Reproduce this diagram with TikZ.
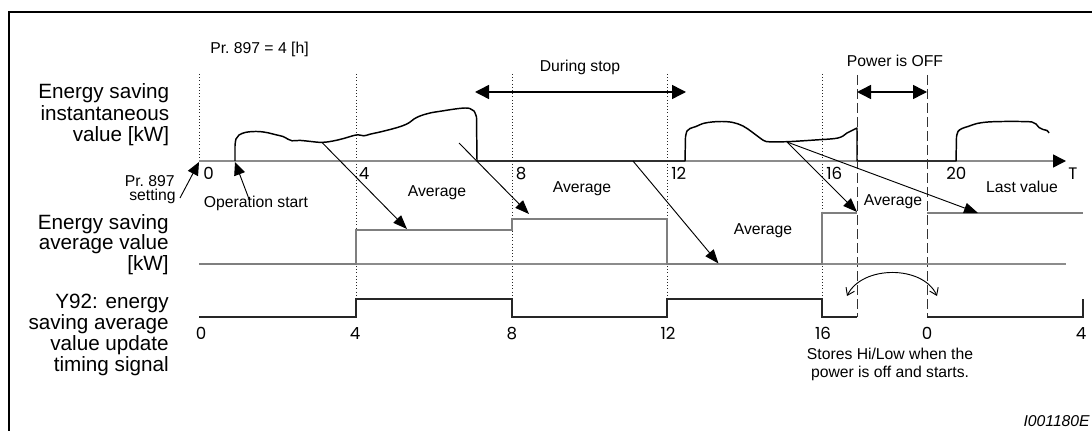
\documentclass[tikz,border=0pt]{standalone}
\usepackage{graphicx}
\usepackage{fontspec}
\setmainfont{Liberation Sans}
\newfontfamily\numfont{Poppins}
\newfontfamily\lblfont{Liberation Sans}
\usetikzlibrary{arrows.meta}
\definecolor{avggray}{HTML}{7F7F7F}
\definecolor{axisgray}{HTML}{8C8C8C}
\newcommand{\smalllbl}{\lblfont\fontsize{11.8pt}{14pt}\selectfont}
\newcommand{\numlbl}{\numfont\fontsize{10pt}{12pt}\selectfont}
\newcommand{\bigtxt}[1]{\scalebox{1.3136}{#1}}
\newcommand{\numtxt}[1]{\scalebox{1.25}{#1}}
\begin{document}
\begin{tikzpicture}[x=0.75pt,y=-0.75pt,
  bigtext/.style={font=\smalllbl, anchor=base east, inner sep=0pt},
  smalltext/.style={font=\smalllbl, inner sep=0pt, anchor=base},
  numtext/.style={font=\numlbl, inner sep=0pt, anchor=base},
  frame/.style={line width=1.5pt, black},
  tickline/.style={line width=0.7pt, dash pattern=on 0.8pt off 1.6pt, black!85},
  offline/.style={line width=0.75pt, dash pattern=on 7.5pt off 3pt, black!80},
  axisline/.style={line width=1.1pt, axisgray},
  zeroline/.style={line width=0.8pt, axisgray},
  curve/.style={line width=1.1pt, black, line join=round},
  avg/.style={line width=1.5pt, avggray},
  sig/.style={line width=1.5pt, black!85},
  ptr/.style={line width=0.7pt, black, -{Triangle[length=10.5pt,width=8pt]}},
  lab/.style={line width=0.7pt, black, -{Triangle[length=9.75pt,width=8.5pt]}},
  span/.style={line width=1.1pt, black, {Triangle[length=10.5pt,width=10.5pt]}-{Triangle[length=10.5pt,width=10.5pt]}},
  swap/.style={line width=0.7pt, black, {Straight Barb[length=5pt,width=7pt]}-{Straight Barb[length=5pt,width=7pt]}}
]
\useasboundingbox (0,0) rectangle (1092,431);
% frame
\draw[frame] (9,431) -- (9,12.5) -- (1092,12.5);

% time marks
\coordinate (t0) at (199,161);
\draw[tickline] (199,74) -- (t0);
\foreach \x in {356,512,667,822}{
  \draw[tickline] (\x,74) -- (\x,299);
}
% power off dashed lines
\draw[offline] (857,75) -- (857,317);
\draw[offline] (927,75) -- (927,317);

% axis of instantaneous value
\coordinate (axend) at (1066,161);
\draw[axisline, -{Triangle[length=9.75pt,width=9.75pt,color=black]}] (t0) -- (axend);
\node[numtext, anchor=base west] (T) at (1068,179.5) {\numtxt{T}};

% instantaneous value curve
\draw[curve] (235,161) -- plot[smooth,tension=0.6] coordinates {
 (235,146) (236,139) (239,135) (245,132.5) (252,131.6) (260,131.6) (268,132.8) (276,134.8) (283,136.5) (288,139.2) (292,140.8)
 (300,140.4) (310,141.4) (322,142.4) (333,141) (344,138.4) (352,136) (358,134.8) (364,135.8) (370,134.2) (380,132)
 (392,129) (402,126) (409,122.8) (414,119) (420,116) (430,113) (442,111) (455,109) (465,108) (470,108.6) (474,111) (476.5,117)}
 -- (477,161) -- (685,161) -- plot[smooth,tension=0.6] coordinates {
 (685.5,137) (687,131) (690,128.5) (696,126.5) (703,123.5) (712,122) (722,121.5) (733,122.5) (743,126) (752,132) (760,138)
 (766,141.5) (775,141.8) (787,141.7) (800,141) (815,140) (830,139) (838,138) (843,136) (847,133) (851,131) (857,128)}
 -- (857,161) -- (956,161) -- plot[smooth,tension=0.6] coordinates {
 (956.5,137) (958,131.5) (962,128.5) (968,126.5) (977,123.5) (988,122) (1003,121.5) (1020,121.5) (1032,122) (1036,124)
 (1039,127.5) (1043,129.5) (1047,130.5) (1049,133)};

% average value
\draw[zeroline] (199,264) -- (1066,264);
\draw[avg] (199,264) -- (356,264) -- (356,230) -- (512,230) -- (512,219) -- (667,219) -- (667,264)
  -- (822,264) -- (822,212.5) -- (857,212.5);
\draw[avg] (927,213) -- (1083,213);

% Y92 signal
\draw[sig] (199,317) -- (356,317) -- (356,299) -- (512,299) -- (512,317) -- (667,317) -- (667,299)
  -- (822,299) -- (822,317) -- (857,317);
\draw[sig] (927,317) -- (1083,317) -- (1083,299);

% averaging arrows
\coordinate (a1s) at (322,142.5); \coordinate (a1e) at (407,229);
\coordinate (a2s) at (459,143);   \coordinate (a2e) at (529,214);
\coordinate (a3s) at (633,161);   \coordinate (a3e) at (718.5,263.5);
\coordinate (a4s) at (787,142);   \coordinate (a4e) at (857,212);
\coordinate (a5e) at (978,213);
\draw[ptr] (a1s) -- (a1e);
\draw[ptr] (a2s) -- (a2e);
\draw[ptr] (a3s) -- (a3e);
\draw[ptr] (a4s) -- (a4e);
\draw[ptr] (a4s) -- (a5e);

% span arrows
\coordinate (ds1) at (475,92); \coordinate (ds2) at (686,92);
\draw[span] (ds1) -- (ds2);
\coordinate (po1) at (857,92); \coordinate (po2) at (927,92);
\draw[span] (po1) -- (po2);

% swap arrow
\coordinate (sw1) at (847,296); \coordinate (sw2) at (937,296);
\draw[swap] (sw1) .. controls (862,265) and (923,265) .. (sw2);

% label arrows
\coordinate (prs) at (180,198); \coordinate (prt) at (199,162);
\coordinate (ops) at (249,199); \coordinate (opt) at (235,162);
\draw[lab] (prs) -- (prt);
\draw[lab] (ops) -- (opt);

% left labels
\node[bigtext] (l1a) at (169.5,99) {\bigtxt{Energy saving}};
\node[bigtext] (l1b) at (169.5,120.5) {\bigtxt{instantaneous}};
\node[bigtext] (l1c) at (169.5,142) {\bigtxt{value [kW]}};
\node[bigtext] (l2a) at (169,229) {\bigtxt{Energy saving}};
\node[bigtext] (l2b) at (169,249.5) {\bigtxt{average value}};
\node[bigtext] (l2c) at (169,270) {\bigtxt{[kW]}};
\node[bigtext] (l3a) at (169,308.5) {\bigtxt{Y92: energy}};
\node[bigtext] (l3b) at (169,329.5) {\bigtxt{saving average}};
\node[bigtext] (l3c) at (169,350) {\bigtxt{value update}};
\node[bigtext] (l3d) at (169,371) {\bigtxt{timing signal}};

% small texts
\node[smalltext, anchor=base west] (pr) at (210,54) {Pr.\ 897 = 4 [h]};
\node[smalltext] (ds) at (580,72) {During stop};
\node[smalltext] (po) at (895,67) {Power is OFF};
\node[smalltext, anchor=base east] (prA) at (175,186.5) {Pr.\ 897};
\node[smalltext, anchor=base east] (prB) at (176,200.5) {setting};
\node[smalltext] (op) at (256,207) {Operation start};
\node[smalltext] (av1) at (437,196) {Average};
\node[smalltext] (av2) at (582,192.5) {Average};
\node[smalltext] (av3) at (763,234.5) {Average};
\node[smalltext] (av4) at (893,205.5) {Average};
\node[smalltext] (lv) at (1022,192.5) {Last value};
\node[smalltext] (st1) at (890,359) {Stores Hi/Low when the};
\node[smalltext] (st2) at (890,377) {power is off and starts.};
\node[smalltext, anchor=base east, font=\smalllbl\itshape] (id) at (1090,426.5) {I001180E};

% numbers top axis
\node[numtext, anchor=base west] (n0) at (203,180) {\numtxt{0}};
\node[numtext, anchor=base west] (n4) at (358.5,180) {\numtxt{4}};
\node[numtext, anchor=base west] (n8) at (515.5,180) {\numtxt{8}};
\node[numtext, anchor=base west] (n12) at (671,180) {\numtxt{12}};
\node[numtext, anchor=base west] (n16) at (826,180) {\numtxt{16}};
\node[numtext, anchor=base west] (n20) at (946,180) {\numtxt{20}};
% numbers bottom axis
\node[numtext] (m0) at (201,339.5) {\numtxt{0}};
\node[numtext] (m4) at (355,339.5) {\numtxt{4}};
\node[numtext] (m8) at (512,339.5) {\numtxt{8}};
\node[numtext] (m12) at (668,339.5) {\numtxt{12}};
\node[numtext] (m16) at (823,339.5) {\numtxt{16}};
\node[numtext] (m0b) at (927,339.5) {\numtxt{0}};
\node[numtext] (m4b) at (1081,339.5) {\numtxt{4}};
\end{tikzpicture}
\end{document}
